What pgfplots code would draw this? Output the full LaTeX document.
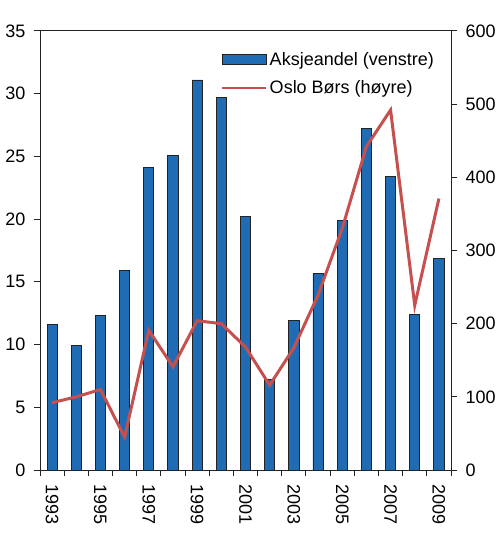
\documentclass[border=0pt]{standalone}
\usepackage{pgfplots}
\pgfplotsset{compat=1.18}
\usepackage{fontspec}
\setmainfont{Liberation Sans}
\definecolor{barblue}{RGB}{31,108,180}
\definecolor{linered}{RGB}{197,80,78}
\definecolor{axgray}{RGB}{35,35,35}

% andel aksjer (venstre akse) og Oslo Børs indeks (høyre akse), 1993-2009
\pgfplotstableread{
x  year  share  osebx
0  1993  11.6   92
1  1994  9.9    100
2  1995  12.3   110
3  1996  15.9   45
4  1997  24.1   191
5  1998  25.1   141
6  1999  31.1   204
7  2000  29.7   200
8  2001  20.2   168
9  2002  7.2    116
10 2003  11.9   167
11 2004  15.7   239
12 2005  19.9   330
13 2006  27.2   442
14 2007  23.4   492
15 2008  12.4   225
16 2009  16.9   371
}\data

\begin{document}
\begin{tikzpicture}
\pgfplotsset{
  every axis/.append style={
    scale only axis, width=411bp, height=439bp,
    xmin=-0.5, xmax=16.5,
    font=\fontsize{18bp}{21bp}\selectfont,
    /pgf/number format/assume math mode=true,
    tick align=outside,
    axis line style={axgray, line width=1pt},
    every tick/.style={axgray, line width=1pt},
    major tick length=6bp,
    minor tick length=6bp,
  }
}
\begin{axis}[
  name=ax,
  ybar,
  ymin=0, ymax=35,
  ytick={0,5,...,35},
  ytick pos=left,
  yticklabel style={xshift=-5bp},
  xtick pos=bottom,
  xtick={0,2,...,16},
  xticklabels={1993,1995,1997,1999,2001,2003,2005,2007,2009},
  major x tick style={draw=none},
  minor xtick={-0.5,0.5,...,16.5},
  xticklabel style={rotate=-90, anchor=west, xshift=5bp},
  legend style={at={(1,1)}, anchor=north east, xshift=-12bp, yshift=-17bp,
    draw=none, fill=none, row sep=10bp,
    font=\fontsize{18bp}{21bp}\selectfont},
  legend cell align=left,
]
\addplot[fill=barblue, draw=axgray, line width=0.8pt, bar width=0.42,
  legend image code/.code={\draw[fill=barblue, draw=axgray, line width=0.8pt] (0bp,-5bp) rectangle (44bp,5bp);}]
  table[x=x, y=share] {\data};
\addlegendentry{Aksjeandel (venstre)}
\addlegendimage{linered, line width=2.6bp,
  legend image code/.code={\draw[linered, line width=2.6bp] (0bp,0bp) -- (44bp,0bp);}}
\addlegendentry{Oslo Børs (høyre)}
\end{axis}
\begin{axis}[
  ymin=0, ymax=600,
  ytick={0,100,...,600},
  axis y line*=right,
  axis x line=none,
  yticklabel style={xshift=5bp},
]
\addplot[linered, line width=3bp, mark=none] table[x=x, y=osebx] {\data};
\end{axis}
\path (ax.south west) ++(-40bp,-74bp) rectangle ++(500bp,544bp);
\end{tikzpicture}
\end{document}
